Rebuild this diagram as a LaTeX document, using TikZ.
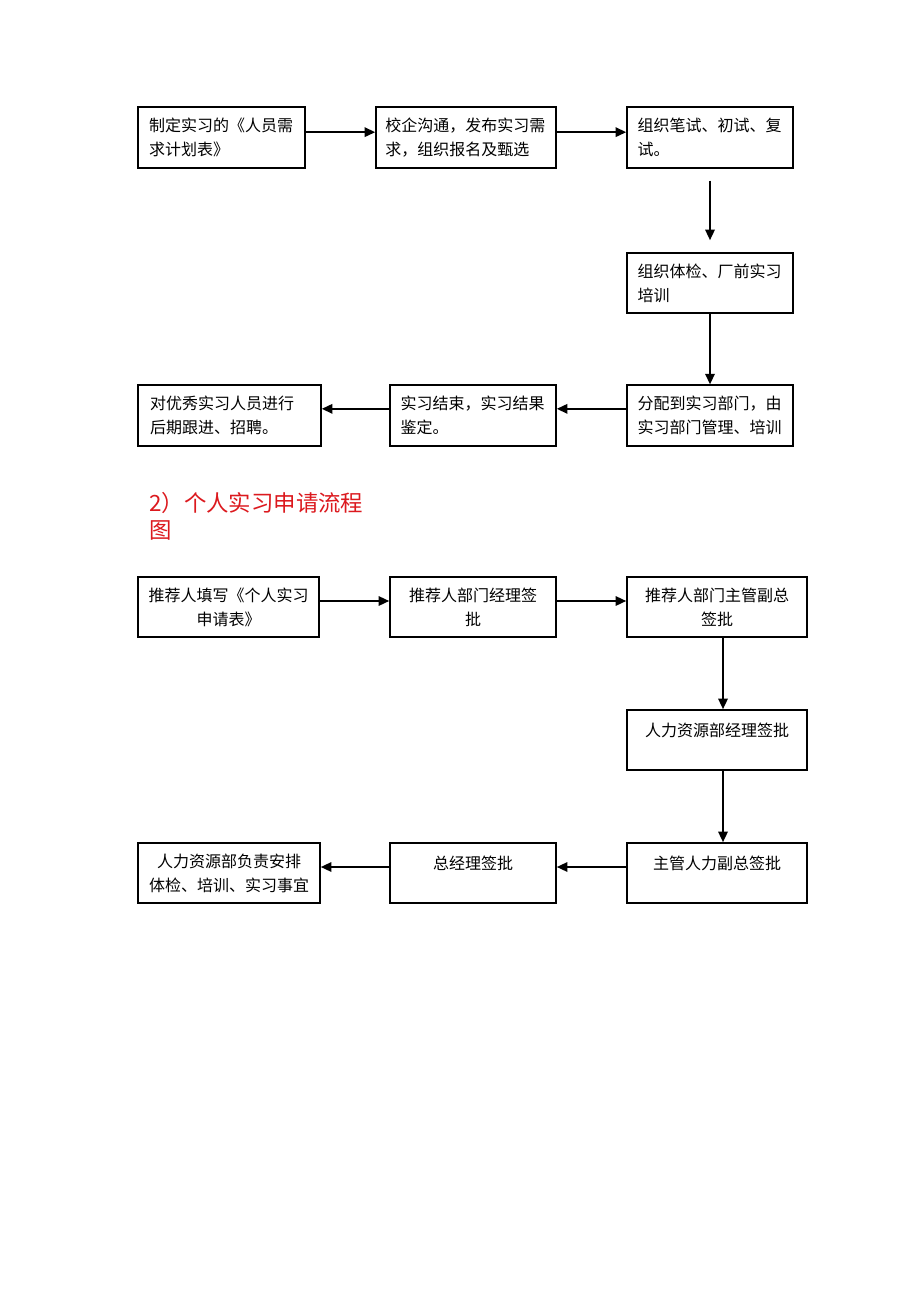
\documentclass[tikz,border=0pt]{standalone}
\usepackage{fontspec}
\setmainfont{Noto Sans CJK SC}
\usetikzlibrary{arrows.meta}
\definecolor{headred}{RGB}{220,25,30}
\begin{document}
\begin{tikzpicture}[x=0.75pt,y=-0.75pt,
  box/.style={draw, line width=1.1pt, inner sep=0pt, minimum height=45.5pt,
              font=\fontsize{12}{18}\selectfont},
  lbox/.style={box, align=left},
  cbox/.style={box, align=center},
  arr/.style={line width=1.6pt, -{Triangle[length=8pt,width=7pt]}},
]
\useasboundingbox[fill=white] (0,0) rectangle (920,1302);

% ---------- first flow ----------
\node[lbox, minimum width=125.25pt, text width=108.5pt] (A) at (221.5,137.5)
  {制定实习的《人员需\\求计划表》};
\node[lbox, minimum width=135pt, text width=121pt] (B) at (466,137.5)
  {校企沟通，发布实习需\\求，组织报名及甄选};
\node[lbox, minimum width=124.5pt, text width=108.5pt] (C) at (710,137.5)
  {组织笔试、初试、复\\试。};
\node[lbox, minimum width=124.5pt, text width=108.5pt, minimum height=45pt] (D) at (710,283)
  {组织体检、厂前实习\\培训};
\node[lbox, minimum width=124.5pt, text width=108.5pt] (E) at (710,415.5)
  {分配到实习部门，由\\实习部门管理、培训};
\node[lbox, minimum width=124.5pt, text width=108.5pt] (F) at (473,415.5)
  {实习结束，实习结果\\鉴定。};
\node[lbox, minimum width=137.25pt, text width=119.25pt] (G) at (229.5,415.5)
  {对优秀实习人员进行\\后期跟进、招聘。};

\draw[arr] ([yshift=4pt]A.east) -- ([yshift=4pt]B.west);
\draw[arr] ([yshift=4pt]B.east) -- ([yshift=4pt]C.west);
\draw[arr, shorten <=9pt, shorten >=9pt] (C.south) -- (D.north);
\draw[arr] (D.south) -- (E.north);
\draw[arr] ([yshift=5pt]E.west) -- ([yshift=5pt]F.east);
\draw[arr] ([yshift=5pt]F.west) -- ([yshift=5pt]G.east);

% ---------- heading ----------
\node[anchor=west, inner sep=0pt, text=headred, align=left,
      font=\fontsize{16.8}{20.5}\selectfont] (title) at (149,516.5)
  {2）个人实习申请流程\\图};

% ---------- second flow ----------
\node[cbox, minimum width=135.75pt, text width=130pt, minimum height=45pt] (H) at (228.5,607)
  {推荐人填写《个人实习\\申请表》};
\node[cbox, minimum width=124.5pt, text width=120pt, minimum height=45pt] (I) at (473,607)
  {推荐人部门经理签\\批};
\node[cbox, minimum width=135pt, text width=130pt, minimum height=45pt] (J) at (717,607)
  {推荐人部门主管副总\\签批};
\node[cbox, minimum width=135pt, text width=130pt, minimum height=45pt] (K) at (717,740)
  {人力资源部经理签批\\[-8pt]\strut};
\node[cbox, minimum width=135pt, text width=130pt, minimum height=45pt] (L) at (717,873)
  {主管人力副总签批\\[-8pt]\strut};
\node[cbox, minimum width=124.5pt, text width=120pt, minimum height=45pt] (M) at (473,873)
  {总经理签批\\[-8pt]\strut};
\node[cbox, minimum width=136.5pt, text width=130pt, minimum height=45pt] (N) at (229,873)
  {人力资源部负责安排\\体检、培训、实习事宜};

\draw[arr] ([yshift=4.5pt]H.east) -- ([yshift=4.5pt]I.west);
\draw[arr] ([yshift=4.5pt]I.east) -- ([yshift=4.5pt]J.west);
\draw[arr] ([xshift=4.5pt]J.south) -- ([xshift=4.5pt]K.north);
\draw[arr] ([xshift=4.5pt]K.south) -- ([xshift=4.5pt]L.north);
\draw[arr] ([yshift=4.5pt]L.west) -- ([yshift=4.5pt]M.east);
\draw[arr] ([yshift=4.5pt]M.west) -- ([yshift=4.5pt]N.east);
\end{tikzpicture}
\end{document}
